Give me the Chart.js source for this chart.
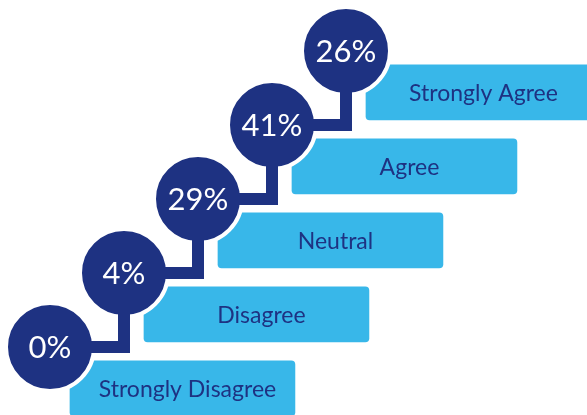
<!DOCTYPE html>
<html>
<head>
<meta charset="utf-8">
<script src="https://cdn.jsdelivr.net/npm/chart.js@4"></script>
<style>
html,body{margin:0;padding:0;background:#fff;}
canvas{display:block;}
</style>
</head>
<body>
<canvas id="c" width="587" height="415"></canvas>
<script>
const categories = ['Strongly Disagree', 'Disagree', 'Neutral', 'Agree', 'Strongly Agree'];
const percentages = [0, 4, 29, 41, 26];
const valueLabels = ['0%', '4%', '29%', '41%', '26%'];

const NAVY = '#1e3282';
const SKY = '#38b7e9';

// each level sits one unit right and one unit up of the previous one
const levels = categories.map((c, i) => i);
const circlePoints = levels.map(i => ({x: i, y: i}));
const barPoints = levels.map(i => ({y: i - 0.56, x: [i + 0.27, i + 3.31]}));

const labelPlugin = {
  id: 'labels',
  afterDatasetsDraw(chart) {
    const ctx = chart.ctx;
    const xs = chart.scales.x, ys = chart.scales.y;
    ctx.save();
    ctx.textAlign = 'center';
    ctx.textBaseline = 'middle';
    circlePoints.forEach((p, i) => {
      ctx.fillStyle = '#ffffff';
      ctx.font = '31px Lato';
      ctx.fillText(valueLabels[i], xs.getPixelForValue(p.x), ys.getPixelForValue(p.y) + 1);
    });
    barPoints.forEach((b, i) => {
      ctx.fillStyle = NAVY;
      ctx.font = '23px Lato';
      const cx = (xs.getPixelForValue(b.x[0]) + xs.getPixelForValue(b.x[1])) / 2 + 5;
      ctx.fillText(categories[i], cx, ys.getPixelForValue(b.y) + 1);
    });
    ctx.restore();
  }
};

new Chart(document.getElementById('c'), {
  data: {
    datasets: [
      {
        type: 'line',
        label: 'connector',
        data: circlePoints,
        stepped: 'before',
        borderColor: NAVY,
        borderWidth: 12,
        borderCapStyle: 'butt',
        pointRadius: 0,
        fill: false,
        clip: false,
        order: 0
      },
      {
        type: 'scatter',
        label: 'share',
        data: circlePoints,
        pointRadius: 44,
        pointHoverRadius: 44,
        pointBackgroundColor: NAVY,
        pointBorderColor: '#ffffff',
        pointBorderWidth: 4,
        clip: false,
        order: 1
      },
      {
        type: 'bar',
        label: 'category',
        data: barPoints,
        backgroundColor: SKY,
        borderWidth: 0,
        borderRadius: 4,
        borderSkipped: false,
        barThickness: 55,
        order: 2
      }
    ]
  },
  options: {
    indexAxis: 'y',
    responsive: false,
    animation: false,
    events: [],
    layout: {padding: 0, autoPadding: false},
    plugins: {legend: {display: false}, tooltip: {enabled: false}},
    scales: {
      x: {type: 'linear', min: -50 / 74, max: 537 / 74, offset: false, display: false},
      y: {type: 'linear', min: -68 / 74, max: 347 / 74, offset: false, display: false}
    }
  },
  plugins: [labelPlugin]
});
</script>
</body>
</html>
